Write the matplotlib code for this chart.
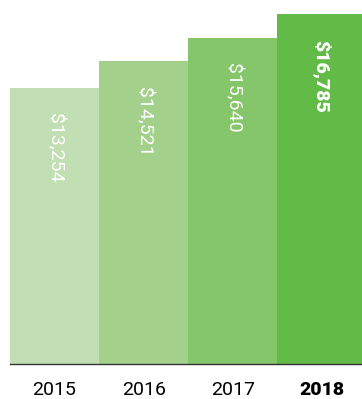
import matplotlib
matplotlib.use("Agg")
import matplotlib.pyplot as plt

years = ["2015", "2016", "2017", "2018"]
values = [13254, 14521, 15640, 16785]
labels = ["$13,254", "$14,521", "$15,640", "$16,785"]
colors = ["#c1dfb2", "#a3d18b", "#85c66a", "#62bb47"]

plt.rcParams['font.family'] = ['Roboto', 'DejaVu Sans']

fig = plt.figure(figsize=(3.62, 3.99), dpi=100)
ax = fig.add_axes([10 / 362, 35 / 399, 352 / 362, 364 / 399])

x = range(len(years))
ax.bar(x, values, width=1.0, color=colors, edgecolor="none")

for i, (v, lab) in enumerate(zip(values, labels)):
    ax.annotate(lab, (i, v), xytext=(0, -18.5), textcoords="offset points",
                rotation=-90, ha="center", va="top", color="white",
                fontsize=14, fontweight=900 if i == 3 else "normal")

ax.set_xlim(-0.5, 3.45)
ax.set_ylim(0, 17450)
ax.set_xticks(list(x))
ax.set_xticklabels(years, fontsize=14)
ax.get_xticklabels()[-1].set_fontweight(900)
ax.tick_params(axis="x", length=0, pad=12)
ax.set_yticks([])
for s in ["top", "right", "left"]:
    ax.spines[s].set_visible(False)
ax.spines["bottom"].set_color("#333333")
ax.spines["bottom"].set_linewidth(1.0)

fig.savefig("out.png", dpi=100)
